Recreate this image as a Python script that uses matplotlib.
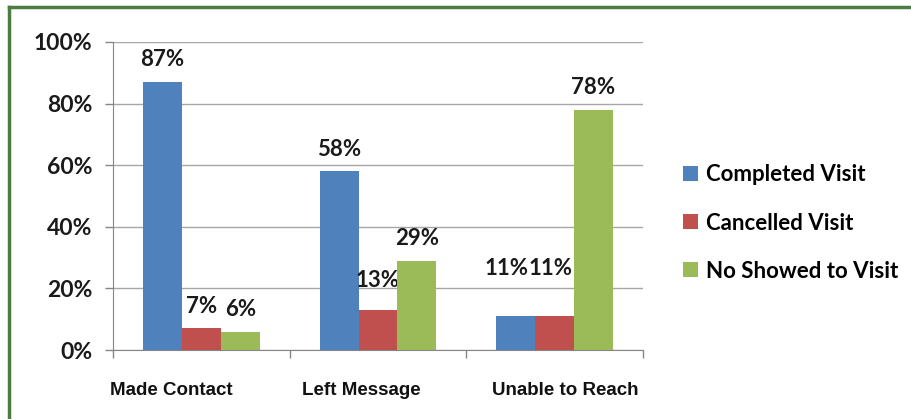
import matplotlib.pyplot as plt
import numpy as np
from matplotlib.lines import Line2D
from matplotlib.ticker import FixedLocator, PercentFormatter
from matplotlib.transforms import ScaledTranslation

categories = ["Made Contact", "Left Message", "Unable to Reach"]
series = ["Completed Visit", "Cancelled Visit", "No Showed to Visit"]
completed = [87, 58, 11]
cancelled = [7, 13, 11]
no_show = [6, 29, 78]
values = [completed, cancelled, no_show]

colors = ["#4F81BD", "#C0504D", "#9BBB59"]
# some labels were moved by hand in the original chart (points, x and y)
label_dy = [[16, 16, 34], [16, 21, 34], [16, 16, 16]]
label_dx = [[0, 0, -7], [0, 0, -3], [0, 0, 0]]
# category labels are not centred under their groups in the original (pixels)
cat_shift = [-30, -17, 11]

fig = plt.figure(figsize=(9.12, 4.19), dpi=100)
ax = fig.add_axes([113 / 912, 1 - 350 / 419, 530 / 912, 308 / 419])

x = np.arange(len(categories))
width = 0.22
for i, (name, vals) in enumerate(zip(series, values)):
    pos = x + (i - 1) * width
    ax.bar(pos, vals, width, color=colors[i], label=name, zorder=3)
    for px, v, dx, dy in zip(pos, vals, label_dx[i], label_dy[i]):
        ax.annotate(f"{v}%", (px, v), xytext=(dx, dy), textcoords="offset points",
                    ha="center", va="center", fontsize=16, fontweight="bold",
                    family="Lato", color="#1a1a1a")

ax.set_xlim(-0.5, 2.5)
ax.set_ylim(0, 100)
ax.yaxis.set_major_locator(FixedLocator([0, 20, 40, 60, 80, 100]))
ax.yaxis.set_major_formatter(PercentFormatter(decimals=0))
ax.grid(axis="y", color="#a6a6a6", linewidth=1, zorder=0)

# category names drawn as text so they can sit where the original put them
ax.set_xticks(x)
ax.set_xticklabels([])
for xi, name, dx in zip(x, categories, cat_shift):
    tr = ax.get_xaxis_transform() + ScaledTranslation(dx / 100, -0.40, fig.dpi_scale_trans)
    ax.text(xi, 0, name, transform=tr, ha="center", va="center", fontsize=13.5,
            fontweight="bold", family="Liberation Sans", color="#111111")
ax.xaxis.set_minor_locator(FixedLocator([-0.5, 0.5, 1.5, 2.5]))
ax.tick_params(axis="x", which="major", length=0)
ax.tick_params(axis="x", which="minor", length=6, color="#868686", width=1)
ax.tick_params(axis="y", length=6, color="#868686", width=1, pad=9)
for lab in ax.get_yticklabels():
    lab.set_fontsize(16.5)
    lab.set_fontweight("bold")
    lab.set_family("Lato")
    lab.set_color("#1a1a1a")

for side in ["top", "right"]:
    ax.spines[side].set_visible(False)
for side in ["left", "bottom"]:
    ax.spines[side].set_color("#868686")

fig.legend(loc="center left", bbox_to_anchor=(683 / 912, 1 - 223 / 419),
           frameon=False, prop={"family": "Lato", "weight": "bold", "size": 16},
           handlelength=0.68, handleheight=0.68, handletextpad=0.35, labelspacing=1.22,
           borderpad=0, borderaxespad=0)

# green frame (top and left edges visible in crop)
fig.add_artist(Line2D([9 / 912, 9 / 912], [0, 1 - 7 / 419], color="#4a7d3f", linewidth=2.5,
                      transform=fig.transFigure))
fig.add_artist(Line2D([9 / 912, 1], [1 - 7 / 419, 1 - 7 / 419], color="#4a7d3f", linewidth=2.5,
                      transform=fig.transFigure))

fig.savefig("out.png", dpi=100)
